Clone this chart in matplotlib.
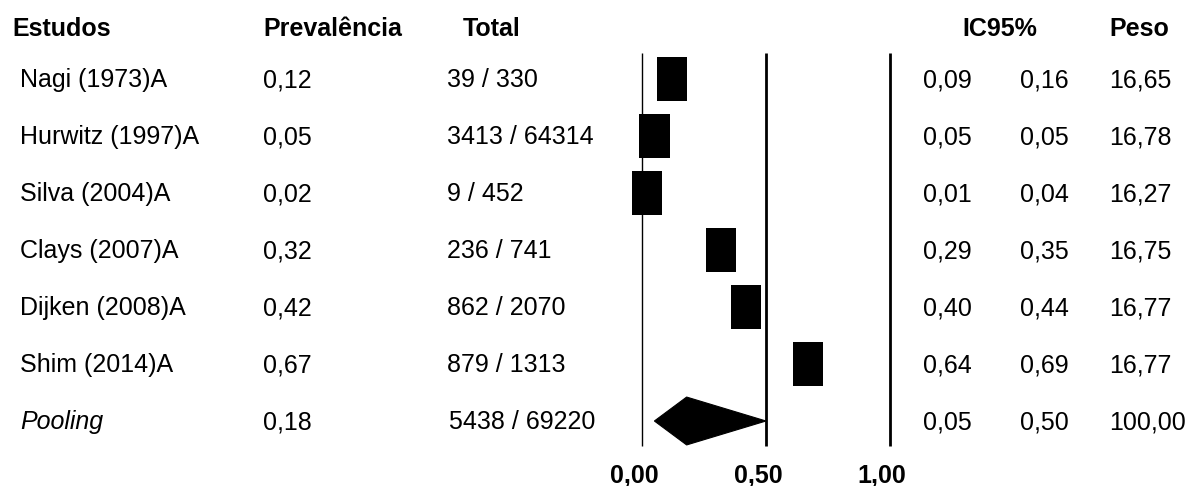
import matplotlib
matplotlib.use("Agg")
import matplotlib.pyplot as plt
from matplotlib.patches import Rectangle, Polygon
from matplotlib.transforms import blended_transform_factory, ScaledTranslation

plt.rcParams['font.family'] = ['Liberation Sans', 'DejaVu Sans']

# Study data
studies = ["Nagi (1973)A", "Hurwitz (1997)A", "Silva (2004)A", "Clays (2007)A",
           "Dijken (2008)A", "Shim (2014)A"]
prevalence = [0.12, 0.05, 0.02, 0.32, 0.42, 0.67]
cases = [39, 3413, 9, 236, 862, 879]
totals = [330, 64314, 452, 741, 2070, 1313]
ci_low = [0.09, 0.05, 0.01, 0.29, 0.40, 0.64]
ci_high = [0.16, 0.05, 0.04, 0.35, 0.44, 0.69]
weights = [16.65, 16.78, 16.27, 16.75, 16.77, 16.77]

# Pooled estimate
pool_prev = 0.18
pool_cases = 5438
pool_total = 69220
pool_low = 0.05
pool_high = 0.50
pool_weight = 100.00

ref_ticks = [0.0, 0.5, 1.0]


def fmt(v, nd=2):
    return f"{v:.{nd}f}".replace(".", ",")


fig = plt.figure(figsize=(12.02, 4.86), dpi=100)
ax = fig.add_axes([0, 0, 1, 1])
# horizontal scale: 0 -> 642 px, 1 -> 890 px
ax.set_xlim(-642 / 248, (1202 - 642) / 248)
# one unit per row, first row centred at 79 px from the top
ax.set_ylim((486 - 79) / 57, -79 / 57)
ax.axis("off")

fs = 18
tr = blended_transform_factory(fig.transFigure, ax.transData)
W = 1202.0
base = 0.146  # baseline offset below the row centre


def cell(x_px, row, s, **kw):
    ax.text(x_px / W, row + base, s, transform=tr, fontsize=fs, va="baseline", **kw)


# headers
head_y = -0.90
for x_px, s, ha in [(12, "Estudos", "left"), (263, "Prevalência", "left"),
                    (463, "Total", "left"), (1000, "IC95%", "center"),
                    (1109, "Peso", "left")]:
    cell(x_px, head_y, s, fontweight="bold", ha=ha)

# reference lines
ax.vlines(ref_ticks, -0.46, 6.44, colors="black", linewidth=[1.0, 2.0, 2.0])

sq_w, sq_h = 0.122, 0.77
for i, name in enumerate(studies):
    cell(20, i, name)
    cell(263, i, fmt(prevalence[i]))
    cell(447, i, f"{cases[i]} / {totals[i]}")
    cell(923, i, fmt(ci_low[i]))
    cell(1020, i, fmt(ci_high[i]))
    cell(1109, i, fmt(weights[i]))
    ax.add_patch(Rectangle((prevalence[i] - sq_w / 2, i - sq_h / 2), sq_w, sq_h,
                           facecolor="black", edgecolor="none"))

# pooled row
p = len(studies)
cell(20, p, "Pooling", style="italic")
cell(263, p, fmt(pool_prev))
cell(449, p, f"{pool_cases} / {pool_total}")
cell(923, p, fmt(pool_low))
cell(1020, p, fmt(pool_high))
cell(1109, p, fmt(pool_weight))
dh = 0.42
ax.add_patch(Polygon([(pool_low, p), (pool_prev, p - dh), (pool_high, p), (pool_prev, p + dh)],
                     closed=True, facecolor="black", edgecolor="black", linewidth=0.8))

# tick labels under the reference lines
shift = ScaledTranslation(-8 / 100, 0, fig.dpi_scale_trans)
for t in ref_ticks:
    ax.text(t, 7.08, fmt(t), fontsize=fs, fontweight="bold", ha="center", va="baseline",
            transform=ax.transData + shift)

fig.savefig("out.png", dpi=100)
